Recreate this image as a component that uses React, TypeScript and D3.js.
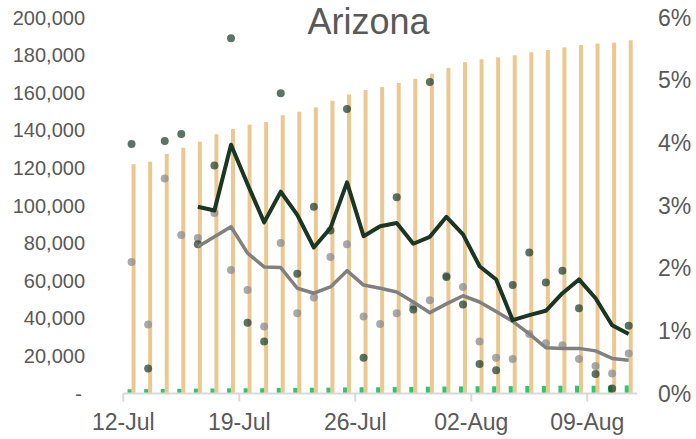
import React from 'react';
import * as d3 from 'd3';

// Arizona, 12-Jul to 11-Aug 2020
const dates = [
  '2020-07-12', '2020-07-13', '2020-07-14', '2020-07-15', '2020-07-16', '2020-07-17', '2020-07-18',
  '2020-07-19', '2020-07-20', '2020-07-21', '2020-07-22', '2020-07-23', '2020-07-24', '2020-07-25',
  '2020-07-26', '2020-07-27', '2020-07-28', '2020-07-29', '2020-07-30', '2020-07-31', '2020-08-01',
  '2020-08-02', '2020-08-03', '2020-08-04', '2020-08-05', '2020-08-06', '2020-08-07', '2020-08-08',
  '2020-08-09', '2020-08-10', '2020-08-11',
];

// cumulative cases (left axis)
const cases = [
  122000, 123300, 127400, 130700, 133900, 137900, 140700, 143000, 144400, 148000, 149900,
  152200, 155700, 159100, 161400, 163000, 165200, 167400, 170100, 173100, 176200, 177800,
  178800, 179900, 181500, 182700, 184100, 185400, 186100, 186600, 187900,
];

// cumulative deaths (left axis)
const deaths = [
  2245, 2337, 2383, 2492, 2576, 2650, 2730, 2765, 2784, 2918, 2974,
  3063, 3142, 3212, 3304, 3305, 3408, 3454, 3626, 3695, 3779, 3845,
  3850, 3932, 4002, 4081, 4137, 4150, 4154, 4199, 4260,
];

// daily rates (right axis, %)
const darkDaily = [
  3.98, 0.40, 4.03, 4.14, 2.38, 3.64, 5.67, 1.13, 0.83, 4.79, 1.91,
  2.98, 2.60, 4.54, 0.57, null, 3.13, 1.34, 4.97, 1.86, 1.42, 0.47,
  0.37, 1.73, 2.25, 1.77, 1.96, 1.36, 0.31, 0.08, 1.08,
];
const grayDaily = [
  2.10, 1.10, 3.43, 2.53, 2.48, 2.88, 1.97, 1.65, 1.07, 2.40, 1.28,
  1.53, 2.18, 2.38, 1.23, 1.11, 1.28, 1.40, 1.49, 1.88, 1.70, 0.83,
  0.57, 0.55, 0.95, 0.80, 0.77, 0.55, 0.44, 0.32, 0.64,
];

// 7-day averages (right axis, %)
const darkAvg = [
  null, null, null, null, 2.98, 2.92, 3.97, 3.34, 2.73, 3.22, 2.85,
  2.33, 2.64, 3.37, 2.51, 2.67, 2.72, 2.39, 2.50, 2.82, 2.54, 2.03,
  1.82, 1.17, 1.25, 1.32, 1.60, 1.82, 1.52, 1.09, 0.95,
];
const grayAvg = [
  null, null, null, null, 2.34, 2.50, 2.66, 2.24, 2.02, 2.01, 1.68,
  1.60, 1.70, 1.96, 1.73, 1.68, 1.62, 1.46, 1.29, 1.43, 1.56, 1.46,
  1.31, 1.15, 0.95, 0.73, 0.72, 0.72, 0.68, 0.56, 0.53,
];

const W = 696;
const H = 439;
const left = 123.3;
const right = 637;
const top = 17.5;
const bottom = 393.5;
const font = '"Liberation Sans", Arial, sans-serif';
const textColor = '#595959';

export default function App() {
  const days = dates.map(d => new Date(d + 'T00:00:00Z'));
  const x = d3.scaleUtc()
    .domain([days[0], d3.utcDay.offset(days[days.length - 1], 1)])
    .range([left, right]);
  const cx = (d: Date) => x(d3.utcHour.offset(d, 12));
  const yL = d3.scaleLinear().domain([0, 200000]).range([bottom, top]);
  const yR = d3.scaleLinear().domain([0, 6]).range([bottom, top]);

  const barW = 4;
  const xTicks = x.ticks(d3.utcWeek.every(1)!);
  const fmtDate = d3.utcFormat('%d-%b');
  const fmtNum = d3.format(',');

  const line = d3.line<{ d: Date; v: number | null }>()
    .defined(p => p.v != null)
    .x(p => cx(p.d))
    .y(p => yR(p.v as number));

  const darkLine = line(days.map((d, i) => ({ d, v: darkAvg[i] })));
  const grayLine = line(days.map((d, i) => ({ d, v: grayAvg[i] })));

  return (
    <svg width={W} height={H} style={{ position: 'absolute', left: 0, top: 0, background: '#fff' }}
      fontFamily={font}>
      <rect width={W} height={H} fill="#fff" />

      {/* bars */}
      {days.map((d, i) => (
        <g key={'b' + i}>
          <rect x={cx(d)} y={yL(cases[i])} width={barW} height={bottom - yL(cases[i])} fill="#ecc891" />
          <rect x={cx(d) - barW} y={yL(deaths[i])} width={barW} height={bottom - yL(deaths[i])} fill="#2fc46f" />
        </g>
      ))}

      {/* x axis */}
      <line x1={left} x2={right} y1={bottom} y2={bottom} stroke="#d9d9d9" strokeWidth={2} />
      {xTicks.map((t, i) => (
        <g key={'xt' + i}>
          <line x1={x(t)} x2={x(t)} y1={bottom} y2={bottom + 8} stroke="#d9d9d9" strokeWidth={2} />
          <text x={x(t)} y={430} textAnchor="middle" fontSize={23} fill={textColor}>{fmtDate(t)}</text>
        </g>
      ))}

      {/* left axis labels */}
      {yL.ticks(10).map((t, i) => (
        <text key={'yl' + i} x={t === 0 ? 82 : 85} y={yL(t)} dy="0.35em" textAnchor="end"
          fontSize={20} fill={textColor}>{t === 0 ? '-' : fmtNum(t)}</text>
      ))}

      {/* right axis labels */}
      {yR.ticks(6).map((t, i) => (
        <text key={'yr' + i} x={658} y={yR(t)} dy="0.35em" textAnchor="start"
          fontSize={23} fill={textColor}>{t + '%'}</text>
      ))}

      {/* daily dots */}
      {days.map((d, i) => grayDaily[i] == null ? null : (
        <circle key={'g' + i} cx={cx(d)} cy={yR(grayDaily[i] as number)} r={4} fill="#8c8c8c" fillOpacity={0.75} />
      ))}
      {days.map((d, i) => darkDaily[i] == null ? null : (
        <circle key={'k' + i} cx={cx(d)} cy={yR(darkDaily[i] as number)} r={4} fill="#1f3d28" fillOpacity={0.72} />
      ))}

      {/* averages */}
      <path d={grayLine || ''} fill="none" stroke="#808080" strokeWidth={3.5} strokeLinejoin="round" />
      <path d={darkLine || ''} fill="none" stroke="#1c3624" strokeWidth={4} strokeLinejoin="round" />

      {/* title */}
      <text x={368.5} y={34} textAnchor="middle" fontSize={36} fill={textColor}>Arizona</text>
    </svg>
  );
}
